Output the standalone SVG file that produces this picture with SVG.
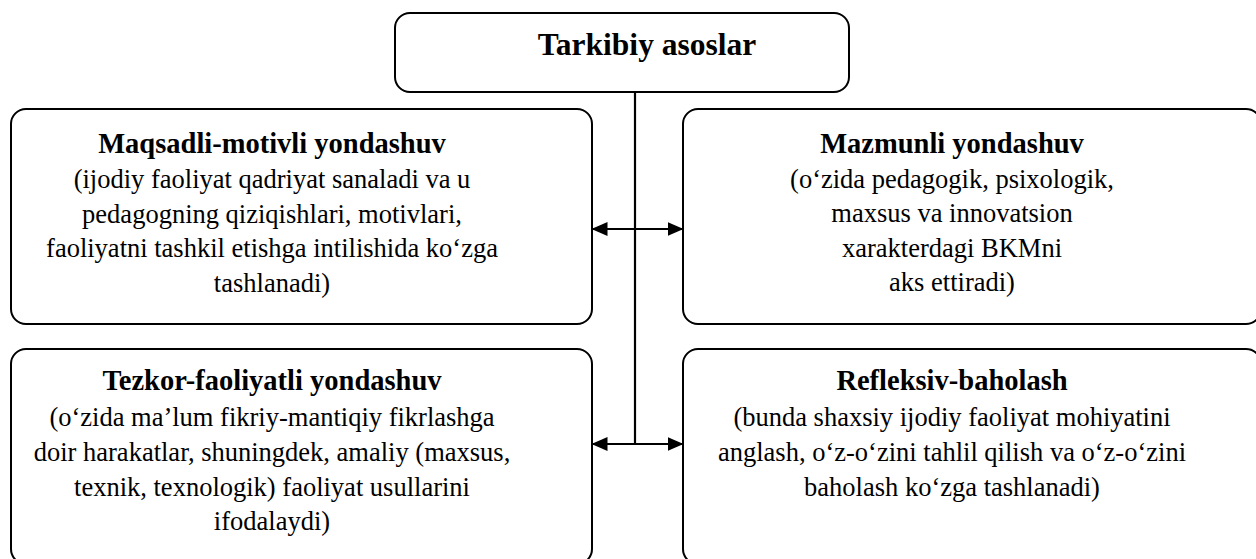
<svg xmlns="http://www.w3.org/2000/svg" width="1256" height="559" viewBox="0 0 1256 559">
<defs>
<marker id="ah" viewBox="0 0 16 14" refX="15.5" refY="7" markerWidth="16" markerHeight="14" markerUnits="userSpaceOnUse" orient="auto-start-reverse">
<path d="M0,0 L16,7 L0,14 Z" fill="#000"/>
</marker>
<style>
.box{fill:#fff;stroke:#000;stroke-width:2}
.t{font-family:"Liberation Serif","Times New Roman",serif;fill:#000;text-anchor:middle}
.h{font-weight:bold;font-size:28.5px}
.b{font-size:26.5px}
.ln{stroke:#000;stroke-width:2.2;fill:none}
</style>
</defs>
<rect width="1256" height="559" fill="#fff"/>
<g id="connectors">
<line class="ln" x1="635" y1="92" x2="635" y2="444"/>
<line class="ln" x1="592" y1="229" x2="683" y2="229" marker-start="url(#ah)" marker-end="url(#ah)"/>
<line class="ln" x1="592" y1="444" x2="683" y2="444" marker-start="url(#ah)" marker-end="url(#ah)"/>
</g>
<g id="top">
<rect class="box" x="395" y="13" width="454" height="79" rx="15"/>
<text class="t" x="647" y="55" font-weight="bold" font-size="31.5">Tarkibiy asoslar</text>
</g>
<g id="maqsadli">
<rect class="box" x="11" y="109" width="581" height="215" rx="15"/>
<text class="t h" x="272" y="153">Maqsadli-motivli yondashuv</text>
<text class="t b" x="272" y="188">(ijodiy faoliyat qadriyat sanaladi va u</text>
<text class="t b" x="272" y="223">pedagogning qiziqishlari, motivlari,</text>
<text class="t b" x="272" y="257">faoliyatni tashkil etishga intilishida ko‘zga</text>
<text class="t b" x="272" y="292">tashlanadi)</text>
</g>
<g id="mazmunli">
<rect class="box" x="683" y="109" width="578" height="215" rx="15"/>
<text class="t h" x="952" y="153">Mazmunli yondashuv</text>
<text class="t b" x="952" y="188">(o‘zida pedagogik, psixologik,</text>
<text class="t b" x="952" y="222">maxsus va innovatsion</text>
<text class="t b" x="952" y="257">xarakterdagi BKMni</text>
<text class="t b" x="952" y="291">aks ettiradi)</text>
</g>
<g id="tezkor">
<rect class="box" x="11" y="349" width="581" height="215" rx="15"/>
<text class="t h" x="272" y="390">Tezkor-faoliyatli yondashuv</text>
<text class="t b" x="272" y="426">(o‘zida ma’lum fikriy-mantiqiy fikrlashga</text>
<text class="t b" x="272" y="461">doir harakatlar, shuningdek, amaliy (maxsus,</text>
<text class="t b" x="272" y="496">texnik, texnologik) faoliyat usullarini</text>
<text class="t b" x="272" y="530">ifodalaydi)</text>
</g>
<g id="refleksiv">
<rect class="box" x="683" y="349" width="578" height="215" rx="15"/>
<text class="t h" x="952" y="390">Refleksiv-baholash</text>
<text class="t b" x="952" y="426">(bunda shaxsiy ijodiy faoliyat mohiyatini</text>
<text class="t b" x="952" y="461">anglash, o‘z-o‘zini tahlil qilish va o‘z-o‘zini</text>
<text class="t b" x="952" y="496">baholash ko‘zga tashlanadi)</text>
</g>
</svg>
